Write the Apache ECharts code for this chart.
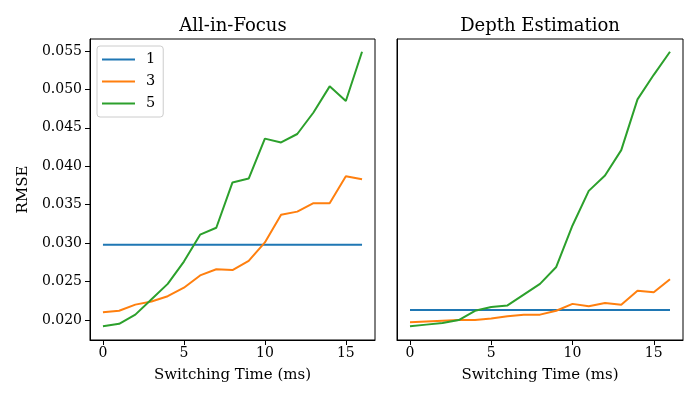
<!DOCTYPE html>
<html>
<head>
<meta charset="utf-8">
<script src="https://cdn.jsdelivr.net/npm/echarts@6/dist/echarts.min.js"></script>
<style>html,body{margin:0;padding:0;background:#fff}#c{width:700px;height:400px}</style>
</head>
<body>
<div id="c"></div>
<script>
const switchingTime = [0,1,2,3,4,5,6,7,8,9,10,11,12,13,14,15,16];
const seriesNames = ['1','3','5'];
const yTicks = [0.020,0.025,0.030,0.035,0.040,0.045,0.050,0.055];
const xTicks = [0,5,10,15];

const aif_1 = [0.0298,0.0298,0.0298,0.0298,0.0298,0.0298,0.0298,0.0298,0.0298,0.0298,0.0298,0.0298,0.0298,0.0298,0.0298,0.0298,0.0298];
const aif_3 = [0.0210,0.0212,0.0220,0.0224,0.0231,0.0242,0.0258,0.0266,0.0265,0.0277,0.0301,0.0337,0.0341,0.0352,0.0352,0.0387,0.0383];
const aif_5 = [0.0192,0.0195,0.0207,0.0227,0.0247,0.0276,0.0311,0.0320,0.0379,0.0384,0.0436,0.0431,0.0442,0.0470,0.0504,0.0485,0.0549];

const dep_1 = [0.0213,0.0213,0.0213,0.0213,0.0213,0.0213,0.0213,0.0213,0.0213,0.0213,0.0213,0.0213,0.0213,0.0213,0.0213,0.0213,0.0213];
const dep_3 = [0.0197,0.0198,0.0199,0.0200,0.0200,0.0202,0.0205,0.0207,0.0207,0.0212,0.0221,0.0218,0.0222,0.0220,0.0238,0.0236,0.0253];
const dep_5 = [0.0192,0.0194,0.0196,0.0200,0.0212,0.0217,0.0219,0.0233,0.0247,0.0269,0.0323,0.0368,0.0388,0.0421,0.0487,0.0519,0.0549];

const colors = ['#1f77b4','#ff7f0e','#2ca02c'];
const FONT = 'DejaVu Serif';

function pairs(arr){ return switchingTime.map((x,i)=>[x,arr[i]]); }

function xAxis(idx){
  return {
    type:'value', gridIndex:idx, min:-0.8, max:16.8,
    name:'Switching Time (ms)', nameLocation:'middle', nameGap:28,
    nameTextStyle:{fontFamily:FONT,fontSize:15,color:'#000'},
    axisLine:{show:true,onZero:false,lineStyle:{color:'#000',width:1}},
    axisTick:{show:true,length:5,lineStyle:{color:'#000',width:1},customValues:xTicks},
    axisLabel:{fontFamily:FONT,fontSize:14,color:'#000',margin:6,customValues:xTicks},
    splitLine:{show:false}
  };
}
function yAxis(idx){
  const showLab = idx===0;
  return {
    type:'value', gridIndex:idx, min:0.0174, max:0.05656,
    name: showLab ? 'RMSE' : '', nameLocation:'middle', nameGap:59, nameRotate:90,
    nameTextStyle:{fontFamily:FONT,fontSize:15,color:'#000'},
    axisLine:{show:true,onZero:false,lineStyle:{color:'#000',width:1}},
    axisTick:{show:showLab,length:5,lineStyle:{color:'#000',width:1},customValues:yTicks},
    axisLabel:{show:showLab,fontFamily:FONT,fontSize:14,color:'#000',margin:8,customValues:yTicks,
      formatter:v=>v.toFixed(3)},
    splitLine:{show:false}
  };
}

function line(name, data, color, xi){
  return {name:name,type:'line',xAxisIndex:xi,yAxisIndex:xi,data:pairs(data),
    showSymbol:false,symbol:'none',lineStyle:{color:color,width:2},itemStyle:{color:color},
    animation:false,silent:true};
}

const chart = echarts.init(document.getElementById('c'), null, {renderer:'canvas'});
chart.setOption({
  animation:false,
  title:[
    {text:'All-in-Focus',left:228,top:12,textAlign:'center',textStyle:{fontFamily:FONT,fontSize:18,fontWeight:'normal',color:'#000'}},
    {text:'Depth Estimation',left:535,top:12,textAlign:'center',textStyle:{fontFamily:FONT,fontSize:18,fontWeight:'normal',color:'#000'}}
  ],
  legend:{
    data:seriesNames, orient:'vertical', left:97, top:46,
    icon:'rect', itemWidth:33, itemHeight:2, itemGap:7,
    padding:[6,8,6,5],
    borderColor:'#cccccc', borderWidth:1, borderRadius:3, backgroundColor:'rgba(255,255,255,0.8)',
    textStyle:{fontFamily:FONT,fontSize:14.5,color:'#000',padding:[0,0,0,6]}
  },
  grid:[
    {left:90,top:39,width:285,height:301,show:true,borderColor:'#000',borderWidth:1,backgroundColor:'transparent'},
    {left:397,top:39,width:286,height:301,show:true,borderColor:'#000',borderWidth:1,backgroundColor:'transparent'}
  ],
  xAxis:[xAxis(0),xAxis(1)],
  yAxis:[yAxis(0),yAxis(1)],
  series:[
    line('1',aif_1,colors[0],0),
    line('3',aif_3,colors[1],0),
    line('5',aif_5,colors[2],0),
    line('1',dep_1,colors[0],1),
    line('3',dep_3,colors[1],1),
    line('5',dep_5,colors[2],1)
  ]
});
</script>
</body>
</html>
